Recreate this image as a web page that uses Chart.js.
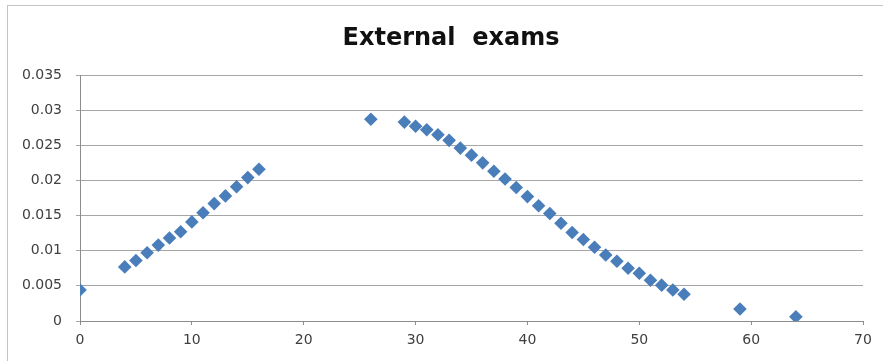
<!DOCTYPE html>
<html>
<head>
<meta charset="utf-8">
<script src="https://cdn.jsdelivr.net/npm/chart.js@4/dist/chart.umd.min.js"></script>
<style>
    html, body { margin: 0; padding: 0; background: #fff; }
    #wrap { width: 883px; height: 361px; position: relative; }
</style>
</head>
<body>
<div id="wrap"><canvas id="exams-chart"></canvas></div>
<script>
const chartTitle = 'External  exams';

const scoreValues = [
    0, 4, 5, 6, 7, 8, 9, 10, 11, 12, 13, 14, 15, 16,
    26, 29, 30, 31, 32, 33, 34, 35, 36, 37, 38, 39, 40,
    41, 42, 43, 44, 45, 46, 47, 48, 49, 50, 51, 52, 53, 54,
    59, 64,
];

const densityValues = [
    0.0044, 0.0077, 0.0086, 0.0097, 0.0108, 0.0118, 0.0127, 0.0141, 0.0154, 0.0167, 0.0178, 0.0191, 0.0204, 0.0216,
    0.0287, 0.0283, 0.0277, 0.0272, 0.0265, 0.0257, 0.0246, 0.0236, 0.0225, 0.0213, 0.0202, 0.0190, 0.0177,
    0.0164, 0.0153, 0.0139, 0.0126, 0.0116, 0.0105, 0.0094, 0.0085, 0.0075, 0.0068, 0.0058, 0.0051, 0.0044, 0.0038,
    0.0017, 0.0006,
];

const xTickStep = 10;
const yTickStep = 0.005;

// excel-style frame and a title centred on the whole chart box
const chartFrame = {
    id: 'chartFrame',
    beforeDraw(chart) {
        const { ctx } = chart;
        ctx.save();
        ctx.strokeStyle = '#c4c4c4';
        ctx.lineWidth = 1;
        ctx.strokeRect(7.5, 5.5, chart.width + 20, chart.height + 20);
        ctx.fillStyle = '#111';
        ctx.font = 'bold 24px "DejaVu Sans"';
        ctx.textAlign = 'center';
        ctx.textBaseline = 'middle';
        ctx.fillText(chartTitle, 451, 39);
        ctx.restore();
    },
};

const canvas = document.getElementById('exams-chart');

new Chart(canvas, {
    type: 'scatter',
    data: {
        datasets: [
            {
                data: scoreValues.map((x, i) => ({ x, y: densityValues[i] })),
                pointStyle: 'rectRot',
                pointRadius: 6.8,
                pointBackgroundColor: '#4a7ebb',
                pointBorderWidth: 0,
                showLine: false,
            },
        ],
    },
    options: {
        responsive: true,
        maintainAspectRatio: false,
        animation: false,
        layout: {
            padding: { left: 0, right: 20, top: 75, bottom: 0 },
        },
        plugins: {
            legend: { display: false },
            tooltip: { enabled: false },
            title: { display: false },
        },
        scales: {
            x: {
                type: 'linear',
                min: 0,
                max: 70,
                afterFit(scale) {
                    scale.height = 40;
                },
                ticks: {
                    stepSize: xTickStep,
                    color: '#404040',
                    padding: 7,
                    font: { family: 'DejaVu Sans', size: 14 },
                },
                grid: {
                    drawOnChartArea: false,
                    drawTicks: true,
                    tickLength: 4,
                    color: '#8c8c8c',
                },
                border: { color: '#8c8c8c' },
            },
            y: {
                min: 0,
                max: 0.035,
                afterFit(scale) {
                    scale.width = 80;
                },
                ticks: {
                    stepSize: yTickStep,
                    color: '#404040',
                    padding: 14,
                    font: { family: 'DejaVu Sans', size: 14 },
                    callback: (value) => String(+value.toFixed(3)),
                },
                grid: {
                    color: '#a6a6a6',
                    tickLength: 4,
                },
                border: { color: '#8c8c8c' },
            },
        },
    },
    plugins: [chartFrame],
});
</script>
</body>
</html>
